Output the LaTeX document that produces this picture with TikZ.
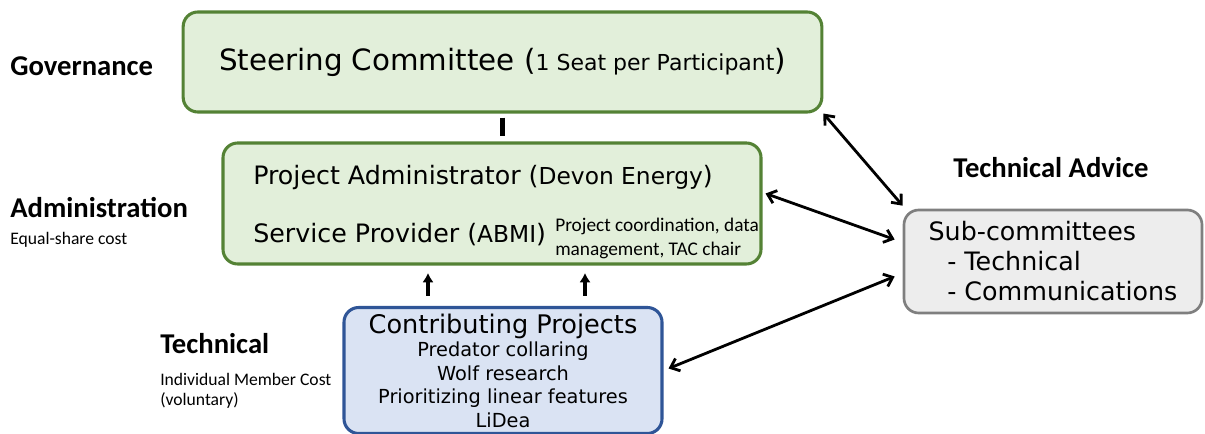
\documentclass[tikz,border=0pt]{standalone}
\usepackage{fontspec}
\setmainfont{DejaVu Sans}
\newfontfamily\calibri{Carlito}
\usetikzlibrary{arrows,arrows.meta,calc}
\definecolor{box_green}{RGB}{84, 130, 53}
\definecolor{fill_green}{RGB}{226, 239, 218}
\definecolor{box_blue}{RGB}{47, 85, 151}
\definecolor{fill_blue}{RGB}{218, 227, 243}
\definecolor{box_grey}{RGB}{127, 127, 127}
\definecolor{fill_grey}{RGB}{237, 237, 237}
\tikzstyle{gb}=[rectangle,rounded corners=11pt,fill=fill_green,draw=box_green,
  line width=2.3pt,inner sep=0pt]
\tikzstyle{bb}=[rectangle,rounded corners=11pt,fill=fill_blue,draw=box_blue,
  line width=2.3pt,inner sep=0pt]
\tikzstyle{sb}=[rectangle,rounded corners=11pt,fill=fill_grey,draw=box_grey,
  line width=2pt,inner sep=0pt]
\tikzstyle{txt}=[anchor=base west,inner sep=0pt]
\tikzstyle{lbl}=[anchor=base west,inner sep=0pt,font=\calibri\bfseries\fontsize{21.5}{24}\selectfont]
\tikzstyle{note}=[anchor=base west,inner sep=0pt,align=left,font=\calibri\fontsize{13.2}{15}\selectfont]
\tikzstyle{link}=[{Straight Barb[length=6pt,width=10pt]}-{Straight Barb[length=6pt,width=10pt]},line width=2.1pt]
\tikzstyle{up}=[-{Latex[length=7pt,width=8.5pt]},line width=2.6pt]

\begin{document}
\begin{tikzpicture}[x=0.75pt, y=-0.75pt]
            \useasboundingbox (0, 0) rectangle (1205, 434);
            % boxes
            \node [style=gb, minimum width=479pt, minimum height=75pt] (0) at (502.5, 62)
              {\fontsize{22}{24}\selectfont Steering Committee (\fontsize{16.5}{24}\selectfont 1 Seat per Participant\fontsize{22}{24}\selectfont)};
            \node [style=gb, minimum width=403.5pt, minimum height=90.75pt] (1) at (492, 203.5) {};
            \node [style=bb, minimum width=238.5pt, minimum height=94.5pt, align=center,
              font=\fontsize{14.5}{17.6}\selectfont] (2) at (503, 370.5)
              {{\fontsize{19.2}{17.6}\selectfont Contributing Projects}\\Predator collaring\\Wolf research\\Prioritizing linear features\\LiDea};
            \node [style=sb, minimum width=223.5pt, minimum height=77.25pt, align=left,
              font=\fontsize{19}{22.5}\selectfont] (3) at (1053, 261.5)
              {Sub-committees\\\hspace*{14pt}- Technical\\\hspace*{14pt}- Communications};
            % text of the administration box
            \node [style=txt, font=\fontsize{19}{20}\selectfont] (4) at (253, 185)
              {Project Administrator (\fontsize{17.5}{20}\selectfont Devon Energy\fontsize{19}{20}\selectfont)};
            \node [style=txt, font=\fontsize{19}{20}\selectfont] (5) at (253, 243)
              {Service Provider (\fontsize{17.5}{20}\selectfont ABMI\fontsize{19}{20}\selectfont)};
            \node [style=note, font=\calibri\fontsize{14.5}{18}\selectfont] (6) at (555, 256)
              {Project coordination, data\\management, TAC chair};
            % tier labels
            \node [style=lbl] (7) at (10, 76) {Governance};
            \node [style=lbl] (8) at (10, 218) {Administration};
            \node [style=note] (9) at (10, 245) {Equal-share cost};
            \node [style=lbl] (10) at (160, 353) {Technical};
            \node [style=note] (11) at (160, 405) {Individual Member Cost\\(voluntary)};
            \node [style=lbl] (12) at (953, 178) {Technical Advice};
            % connectors
            \draw [line width=3.5pt] ($(0.south)+(0, 4)$) to ($(0.south |- 1.north)+(0, -5)$);
            \draw [style=up] ($(2.north)+(-75, -10)$) to ($(2.north)+(-75, -33)$);
            \draw [style=up] ($(2.north)+(82, -10)$) to ($(2.north)+(82, -33)$);
            \draw [style=link] (0.south east) to ($(3.north west)+(0, -3)$);
            \draw [style=link] ($(1.east)+(3, -10)$) to ($(3.west)+(-8, -22)$);
            \draw [style=link] ($(2.east)+(5, -2)$) to ($(3.west)+(-8, 15)$);
    \end{tikzpicture}
\end{document}
